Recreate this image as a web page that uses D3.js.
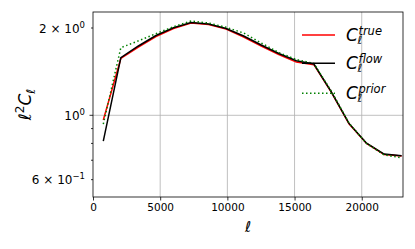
<!DOCTYPE html>
<html>
<head>
<meta charset="utf-8">
<script src="https://cdn.jsdelivr.net/npm/d3@7"></script>
<style>
  body { margin: 0; background: #fff; }
  svg { display: block; font-family: "DejaVu Sans", sans-serif; }
</style>
</head>
<body>
<svg id="chart" width="415" height="249"></svg>
<script>
// multipole bins (ell) and the three spectra l^2 C_l
const ells = [766, 2072, 3378, 4684, 5990, 7296, 8602, 9908, 11214, 12520, 13826, 15132, 16438, 17744, 19050, 20356, 21662, 22968];
const clTrue  = [0.963, 1.570, 1.720, 1.868, 1.992, 2.080, 2.057, 1.984, 1.862, 1.734, 1.621, 1.526, 1.495, 1.200, 0.935, 0.800, 0.733, 0.724];
const clFlow  = [0.815, 1.580, 1.734, 1.884, 2.005, 2.089, 2.064, 1.992, 1.877, 1.747, 1.633, 1.543, 1.503, 1.202, 0.938, 0.801, 0.735, 0.726];
const clPrior = [0.933, 1.711, 1.806, 1.912, 2.020, 2.114, 2.081, 2.011, 1.922, 1.776, 1.646, 1.557, 1.509, 1.210, 0.940, 0.800, 0.730, 0.714];

const xTicks = [0, 5000, 10000, 15000, 20000];
const yMajor = [1];
const yMinor = [0.6, 0.7, 0.8, 0.9, 2];
// labelled y ticks: [value, mantissa, exponent]
const yLabels = [[2, "2", "0"], [1, null, "0"], [0.6, "6", "\u22121"]];

const legendNames = [["true", "red"], ["flow", "black"], ["prior", "green"]];

const svg = d3.select("#chart");
const L = 93, R = 403, T = 12, B = 197;

const x = d3.scaleLinear().domain([0, 23070]).range([L, R]);
const y = d3.scaleLog().domain([0.5228, 2.271]).range([B, T]);

// grid
const grid = svg.append("g").attr("stroke", "#b0b0b0").attr("stroke-width", 0.8);
xTicks.filter(t => t > 0).forEach(t => {
  grid.append("line").attr("x1", x(t)).attr("x2", x(t)).attr("y1", T).attr("y2", B);
});
yMajor.forEach(t => {
  grid.append("line").attr("x1", L).attr("x2", R).attr("y1", y(t)).attr("y2", y(t));
});

// lines
const line = d3.line().x((d, i) => x(ells[i])).y(d => y(d));
const plot = svg.append("g");
plot.append("path").attr("d", line(clTrue)).attr("fill", "none")
  .attr("stroke", "red").attr("stroke-width", 1.5);
plot.append("path").attr("d", line(clFlow)).attr("fill", "none")
  .attr("stroke", "black").attr("stroke-width", 1.5);
plot.append("path").attr("d", line(clPrior)).attr("fill", "none")
  .attr("stroke", "green").attr("stroke-width", 1.5).attr("stroke-dasharray", "1.5,2.5");

// frame
svg.append("rect").attr("x", L).attr("y", T).attr("width", R - L).attr("height", B - T)
  .attr("fill", "none").attr("stroke", "black").attr("stroke-width", 0.8);

// x axis ticks
const xAxis = svg.append("g").attr("transform", `translate(0,${B})`)
  .call(d3.axisBottom(x).tickValues(xTicks).tickSize(3.5).tickPadding(3.5).tickFormat(d3.format("d")));
xAxis.select(".domain").remove();
xAxis.selectAll("line").attr("stroke-width", 0.8);
xAxis.selectAll("text").attr("font-size", 10.5).attr("font-family", "DejaVu Sans").attr("fill", "black");

// y ticks
const yt = svg.append("g").attr("stroke", "black").attr("stroke-width", 0.8);
yMajor.forEach(t => yt.append("line").attr("x1", L - 3.5).attr("x2", L).attr("y1", y(t)).attr("y2", y(t)));
yMinor.forEach(t => yt.append("line").attr("x1", L - 2).attr("x2", L).attr("y1", y(t)).attr("y2", y(t)));

yLabels.forEach(([v, m, e]) => {
  const t = svg.append("text").attr("x", L - 8).attr("y", y(v) + 4.5)
    .attr("text-anchor", "end").attr("font-size", 12);
  if (m) t.append("tspan").text(m + " \u00d7 ");
  t.append("tspan").text("10");
  t.append("tspan").attr("font-size", 8.5).attr("dy", -5).text(e);
});

// axis labels
svg.append("text").attr("x", (L + R) / 2).attr("y", 232).attr("text-anchor", "middle")
  .attr("font-size", 15).attr("font-style", "italic").text("\u2113");

const yl = svg.append("text").attr("transform", `translate(31,${(T + B) / 2}) rotate(-90)`)
  .attr("text-anchor", "middle").attr("font-size", 17).attr("font-style", "italic");
yl.append("tspan").text("\u2113");
yl.append("tspan").attr("font-size", 12).attr("dy", -7).attr("font-style", "normal").text("2");
yl.append("tspan").attr("dy", 7).text("C");
yl.append("tspan").attr("font-size", 12).attr("dy", 3.5).text("\u2113");

// legend: C with stacked superscript name and subscript ell, in one text element
const legY = [35, 63.3, 93.3];
legendNames.forEach(([name, col], i) => {
  const ly = legY[i];
  const ln = svg.append("line").attr("x1", 302).attr("x2", 335).attr("y1", ly).attr("y2", ly)
    .attr("stroke", col).attr("stroke-width", 1.5);
  if (col === "green") ln.attr("stroke-dasharray", "1.5,2.5");
  const t = svg.append("text").attr("x", 346).attr("y", ly + 5.5).attr("font-style", "italic");
  const c = t.append("tspan").attr("font-size", 17).text("C");
  const cw = c.node().getComputedTextLength();
  t.append("tspan").attr("font-size", 11.5).attr("x", 346 + cw + 0.5).attr("y", ly).text(name);
  t.append("tspan").attr("font-size", 11.5).attr("x", 346 + cw - 0.5).attr("y", ly + 8.5).text("\u2113");
});
</script>
</body>
</html>
